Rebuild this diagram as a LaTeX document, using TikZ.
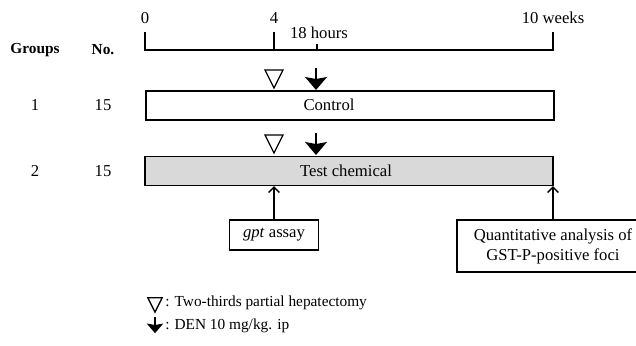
\documentclass[tikz,border=0pt]{standalone}
\usepackage{fontspec}
\setmainfont{Liberation Serif}
\usetikzlibrary{arrows.meta}
\newcommand{\gptx}{\emph{gpt}}
\newcommand{\hepx}[2][1]{\draw[line width=1pt,shift={#2},scale=#1] (-9,-9) -- (9,-9) -- (0,9) -- cycle;}
\newcommand{\denx}[2][1]{%
  \draw[line width=1.2pt,shift={#2},scale=#1] (0,-11) -- (0,4);
  \fill[shift={#2},scale=#1] (-11,-2) -- (0,11) -- (11,-2) -- (0,0) -- cycle;}

\begin{document}
\begin{tikzpicture}[x=0.75pt,y=-0.75pt,
    txt/.style={inner sep=0pt,font=\fontsize{12.5}{15}\selectfont},
    hdr/.style={inner sep=0pt,font=\fontsize{11.5}{14}\selectfont\bfseries},
    leg/.style={inner sep=0pt,anchor=west,font=\fontsize{11.5}{14}\selectfont},
    bar/.style={draw,line width=1.1pt,minimum width=306pt,minimum height=21.5pt,inner sep=0pt},
    box/.style={draw,line width=1.1pt,inner sep=0pt,align=center,font=\fontsize{12.5}{15}\selectfont},
    up/.style={line width=1.1pt,-{Straight Barb[length=4pt,width=8pt,line width=1.1pt]}}]
  \useasboundingbox (0,0) rectangle (636,346);

  % time axis
  \draw[line width=1.1pt] (145,32) -- (145,50) -- (553,50) -- (553,32);
  \draw[line width=1.1pt] (274,32) -- (274,50);
  \draw[line width=1.1pt] (317,44) -- (317,50);
  \node[txt] (t0) at (145,18) {0};
  \node[txt] (t4) at (274,18) {4};
  \node[txt] (t18) at (319,33) {18 hours};
  \node[txt] (t10) at (553,18) {10 weeks};

  \node[hdr] (grp) at (35,50) {Groups};
  \node[hdr] (no) at (103,50) {No.};

  % group 1
  \node[txt] (g1) at (35,105) {1};
  \node[txt] (n1) at (103,105) {15};
  \hepx{(274,79)}
  \denx{(316,79)}
  \node[bar] (ctrl) at (350,105.5) {};
  \node[txt] (ctrltxt) at (329,105) {Control};

  % group 2
  \node[txt] (g2) at (35,171) {2};
  \node[txt] (n2) at (103,171) {15};
  \hepx{(274,144)}
  \denx{(316,144)}
  \node[bar,fill=black!15] (test) at (349,171) {};
  \node[txt] (testtxt) at (346,171) {Test chemical};

  % analyses
  \node[box,minimum width=66.75pt,minimum height=22.5pt] (gpt) at (274,235) {\gptx{} assay};
  \node[box,minimum width=144pt,minimum height=39pt] (quant) at (553,246)
    {Quantitative analysis of\\GST-P-positive foci};
  \draw[up] (gpt.north) -- (gpt.north |- test.south);
  \draw[up] (quant.north) -- (quant.north |- test.south);

  % legend
  \hepx[0.8]{(155,305)}
  \node[leg] (leg1) at (165,303) {: Two-thirds partial hepatectomy};
  \denx[0.75]{(155,325)}
  \node[leg] (leg2) at (165,326) {: DEN 10 mg/kg. ip};
\end{tikzpicture}
\end{document}
